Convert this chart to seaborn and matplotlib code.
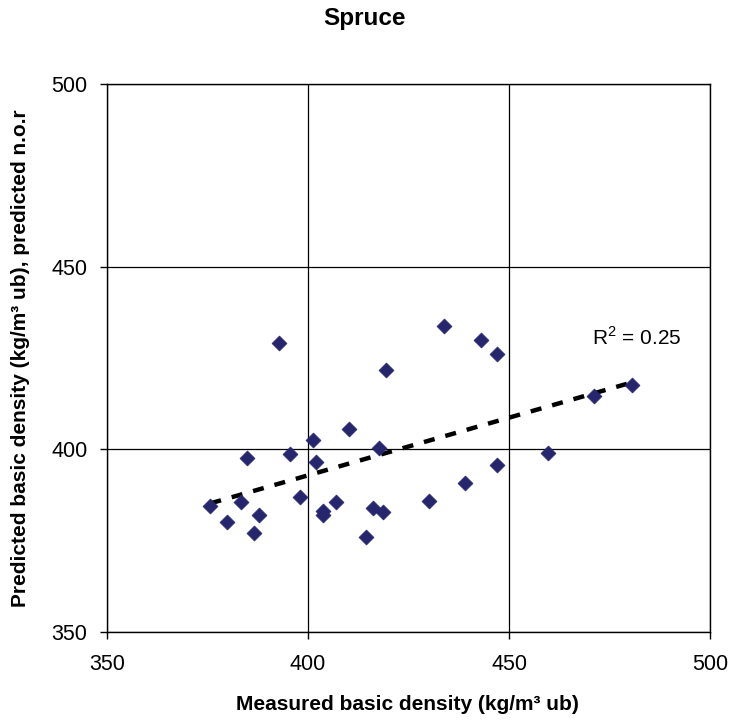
import matplotlib
matplotlib.use("Agg")
import matplotlib.pyplot as plt
import seaborn as sns
import numpy as np
import pandas as pd

measured = [392.7, 433.8, 419.4, 410.1, 401.2, 417.6, 384.7, 395.4, 402.0, 439.0,
            375.7, 383.3, 398.1, 407.0, 403.7, 403.7, 416.2, 418.6, 387.7, 379.8,
            386.5, 414.5, 430.1, 443.0, 447.1, 471.2, 480.6, 459.6, 447.1]
predicted = [429.0, 433.8, 421.7, 405.5, 402.5, 400.3, 397.7, 398.6, 396.6, 390.9,
             384.5, 385.5, 386.9, 385.5, 383.1, 381.9, 384.0, 382.9, 382.0, 380.0,
             377.2, 376.1, 385.9, 429.8, 426.1, 414.7, 417.7, 399.1, 395.7]
x_ticks = [350, 400, 450, 500]
y_ticks = [350, 400, 450, 500]
r2_label = "R$^2$ = 0.25"

df = pd.DataFrame({"measured": measured, "predicted": predicted})

sns.set_theme(style="white")
plt.rcParams['font.family'] = ['Liberation Sans', 'DejaVu Sans']
plt.rcParams['text.color'] = 'black'
plt.rcParams['axes.labelcolor'] = 'black'
plt.rcParams['mathtext.fontset'] = 'custom'
plt.rcParams['mathtext.rm'] = 'Liberation Sans'

fig = plt.figure(figsize=(7.3, 7.22), dpi=100)
ax = fig.add_axes([0.1466, 0.1247, 0.826, 0.759])

sns.regplot(data=df, x="measured", y="predicted", ax=ax, scatter=False, ci=None,
            truncate=True,
            line_kws=dict(color="black", linewidth=3.2, linestyle=(0, (2.5, 2.5)), zorder=2))
sns.scatterplot(data=df, x="measured", y="predicted", ax=ax, marker="D", s=58,
                color="#26266e", edgecolor="#26266e", linewidth=0.5, zorder=3)

ax.set_xlim(350, 500)
ax.set_ylim(350, 500)
ax.set_xticks(x_ticks)
ax.set_yticks(y_ticks)
ax.grid(True, color="black", linewidth=0.9)
ax.set_axisbelow(True)
for s in ax.spines.values():
    s.set_color("black")
    s.set_linewidth(1.0)
ax.tick_params(axis="both", which="major", direction="out", length=5, width=1,
               color="black", labelsize=15.5, labelcolor="black")
ax.tick_params(axis="y", pad=9)
ax.tick_params(axis="x", pad=11)
ax.tick_params(left=True, bottom=True)

ax.set_xlabel("Measured basic density (kg/m³ ub)", fontsize=15, fontweight="bold")
ax.set_ylabel("Predicted basic density (kg/m³ ub), predicted n.o.r", fontsize=15,
              fontweight="bold")
ax.xaxis.label.set_va("center")
ax.yaxis.label.set_va("center")
ax.xaxis.set_label_coords(0.499, -0.133)
ax.yaxis.set_label_coords(-0.1443, 0.5)
fig.suptitle("Spruce", fontsize=17.5, fontweight="bold", x=0.5, y=0.974, va="center")

ax.text(470.6, 430.7, r2_label, fontsize=15, ha="left", va="center", color="black")

fig.savefig("out.png", dpi=100)
